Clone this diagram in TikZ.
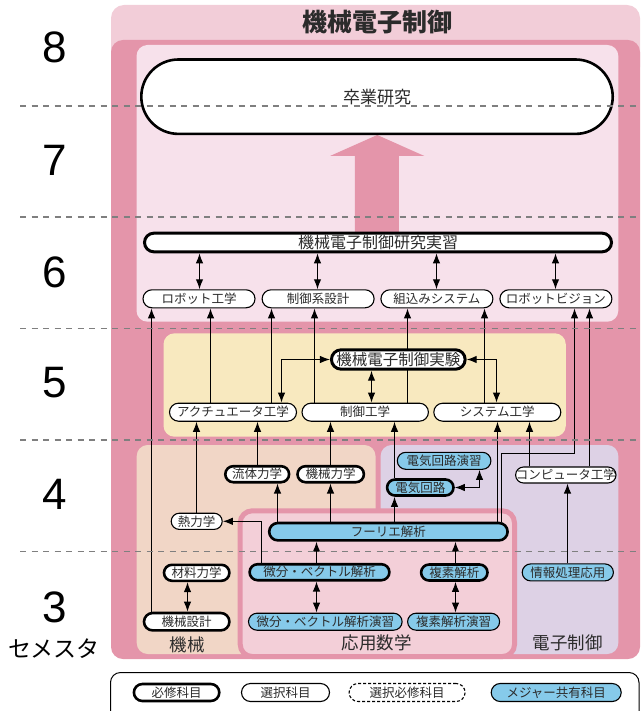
\documentclass[tikz,border=0pt]{standalone}
\usepackage{fontspec}
\newfontfamily\jp{Noto Sans CJK JP}
\newfontfamily\numfont{Liberation Sans}
\usetikzlibrary{arrows.meta}
\definecolor{tpink}{HTML}{F2CDD8}
\definecolor{dpink}{HTML}{E495AA}
\definecolor{ipink}{HTML}{F7E1EB}
\definecolor{ylw}{HTML}{F8E9BF}
\definecolor{peach}{HTML}{F1D6C6}
\definecolor{mpink}{HTML}{F3CFD8}
\definecolor{lav}{HTML}{DDD1E5}
\definecolor{mblue}{HTML}{86CAEA}
\definecolor{sepgray}{HTML}{7F7F7F}
\definecolor{txt}{HTML}{2B2B2B}
\pgfdeclarelayer{regions}
\pgfdeclarelayer{lines}
\pgfdeclarelayer{front}
\pgfsetlayers{regions,lines,main,front}
\tikzset{
  nd/.style={draw=black, fill=white, inner sep=0pt, text=txt,
    font=\jp\fontsize{12.5}{14}\selectfont},
  req/.style={nd, line width=2.6pt, minimum height=16pt, rounded corners=8pt},
  opt/.style={nd, line width=1.1pt, minimum height=17pt, rounded corners=8.5pt},
  blu/.style={fill=mblue},
  arr/.style={line width=1.2pt, -{Latex[length=10pt,width=7.5pt]}},
  darr/.style={line width=1.2pt, {Latex[length=10pt,width=7.5pt]}-{Latex[length=10pt,width=7.5pt]}},
  semnum/.style={font=\numfont\fontsize{44}{44}\selectfont, text=black, inner sep=0pt},
  reglabel/.style={font=\jp\fontsize{17.5}{18}\selectfont, text=txt, inner sep=0pt},
  sepline/.style={draw=sepgray, line width=1.5pt, dash pattern=on 6pt off 5.5pt},
}
\begin{document}
\begin{tikzpicture}[x=1pt,y=-1pt]
\useasboundingbox (0,0) rectangle (640,711);
\clip (0,0) rectangle (640,711);
% regions
\begin{pgfonlayer}{regions}
\fill[tpink, rounded corners=13pt] (111,5) rectangle (640,80);
\fill[dpink, rounded corners=12pt] (111,40) rectangle (640,659);
\fill[ipink, rounded corners=11pt] (136.5,45) rectangle (618.3,321.7);
\fill[ylw, rounded corners=11pt] (163.5,333.3) rectangle (565.8,436.7);
\fill[peach, rounded corners=11pt] (136.7,445) rectangle (375.5,654);
\fill[lav, rounded corners=11pt] (380.6,445) rectangle (618.3,654);
\filldraw[fill=mpink, draw=dpink, line width=5pt, rounded corners=12pt] (240.2,510.8) rectangle (514.5,656.5);
% big arrow
\fill[dpink] (377.2,135) -- (424.4,156) -- (398.9,156) -- (398.9,240) -- (354.8,240) -- (354.8,156) -- (330,156) -- cycle;
\end{pgfonlayer}

% title and labels
\node[font=\jp\bfseries\fontsize{25}{26}\selectfont, text=txt, inner sep=0pt] (title) at (377.2,21.7) {機械電子制御};
\node[semnum] (s8) at (55,47) {8};
\node[semnum] (s7) at (55,160) {7};
\node[semnum] (s6) at (55,272) {6};
\node[semnum] (s5) at (55,383) {5};
\node[semnum] (s4) at (55,494) {4};
\node[semnum] (s3) at (55,607) {3};
\node[font=\jp\fontsize{23}{24}\selectfont, text=black, inner sep=0pt] (sem) at (54,649) {セメスタ};
\node[reglabel] (lkikai) at (187,645) {機械};
\node[reglabel] (louyou) at (376.7,643) {応用数学};
\node[reglabel] (ldenshi) at (567.7,643) {電子制御};

% nodes
\node[nd, line width=2.6pt, minimum width=471.4pt, minimum height=74.4pt, rounded corners=37.2pt,
  font=\jp\fontsize{17}{18}\selectfont] (sotsu) at (377,96.7) {卒業研究};
\node[nd, line width=3pt, minimum width=467pt, minimum height=18.6pt, rounded corners=9.3pt,
  font=\jp\fontsize{16}{17}\selectfont] (kenkyu) at (378,242.5) {機械電子制御研究実習};

\node[opt, minimum width=112pt, minimum height=18pt, rounded corners=9pt] (robot) at (199,298.8) {ロボット工学};
\node[opt, minimum width=112pt, minimum height=18pt, rounded corners=9pt] (seigyokei) at (318.1,298.8) {制御系設計};
\node[opt, minimum width=112pt, minimum height=18pt, rounded corners=9pt] (kumikomi) at (436.9,298.8) {組込みシステム};
\node[opt, minimum width=112pt, minimum height=18pt, rounded corners=9pt] (vision) at (555.9,298.8) {ロボットビジョン};

\node[nd, line width=3pt, minimum width=133.7pt, minimum height=19.4pt, rounded corners=9.7pt,
  font=\jp\fontsize{15.5}{16}\selectfont] (jikken) at (398.3,359.5) {機械電子制御実験};

\node[opt, minimum width=127pt, minimum height=18pt, rounded corners=9pt] (actu) at (233,412.2) {アクチュエータ工学};
\node[opt, minimum width=126.4pt, minimum height=18pt, rounded corners=9pt] (seigyo) at (365.2,412.2) {制御工学};
\node[opt, minimum width=127pt, minimum height=18pt, rounded corners=9pt] (system) at (497.3,412.2) {システム工学};

\node[req, minimum width=63.8pt] (ryutai) at (257.2,474.2) {流体力学};
\node[req, minimum width=66.4pt] (kikairiki) at (330.7,474.2) {機械力学};
\node[opt, blu, minimum width=93.6pt] (denkien) at (444.1,460.8) {電気回路演習};
\node[req, blu, minimum width=66.4pt] (denki) at (420.3,487.5) {電気回路};
\node[opt, minimum width=100.4pt, minimum height=16pt, rounded corners=8pt] (computer) at (565.8,475) {コンピュータ工学};
\node[opt, minimum width=51pt, minimum height=16.2pt, rounded corners=8.1pt] (netsu) at (196.7,521.3) {熱力学};
\node[req, blu, minimum width=238.4pt, minimum height=17.4pt, rounded corners=8.7pt] (fourier) at (388.4,531.7) {フーリエ解析};

\node[req, minimum width=65.4pt] (zairyo) at (196.7,572.8) {材料力学};
\node[req, blu, minimum width=139.8pt] (bibun) at (319.5,572.2) {微分・ベクトル解析};
\node[req, blu, minimum width=66.4pt] (fukuso) at (454.3,572.5) {複素解析};
\node[opt, blu, minimum width=91.2pt] (joho) at (567.8,572.4) {情報処理応用};

\node[req, minimum width=85.4pt, minimum height=17.4pt, rounded corners=8.7pt] (sekkei) at (186.7,621.7) {機械設計};
\node[opt, blu, minimum width=153.6pt] (bibunen) at (325.3,621.7) {微分・ベクトル解析演習};
\node[opt, blu, minimum width=92pt] (fukusoen) at (453.6,621.7) {複素解析演習};

% connectors
\begin{pgfonlayer}{lines}
\draw[darr] (199.5,0 |- kenkyu.south) -- (199.5,0 |- robot.north);
\draw[darr] (317.5,0 |- kenkyu.south) -- (317.5,0 |- seigyokei.north);
\draw[darr] (436.5,0 |- kenkyu.south) -- (436.5,0 |- kumikomi.north);
\draw[darr] (555.5,0 |- kenkyu.south) -- (555.5,0 |- vision.north);

\draw[arr] (151.5,0 |- sekkei.north) -- (151.5,0 |- robot.south);
\draw[arr] (210.5,0 |- actu.north) -- (210.5,0 |- robot.south);
\draw[arr] (271.5,0 |- actu.north) -- (271.5,0 |- seigyokei.south);
\draw[arr] (314.5,0 |- seigyo.north) -- (314.5,0 |- seigyokei.south);
\draw[arr] (407.5,0 |- seigyo.north) -- (407.5,0 |- kumikomi.south);
\draw[arr] (484.5,0 |- system.north) -- (484.5,0 |- kumikomi.south);
\draw[arr] (501.5,0 |- fourier.north) -- (501.5,453.5) -| (574.5,0 |- vision.south);
\draw[arr] (589.5,0 |- computer.north) -- (589.5,0 |- vision.south);
\draw[arr] (497.5,0 |- fourier.north) -- (497.5,0 |- system.south);
\draw[arr] (529.5,0 |- computer.north) -- (529.5,0 |- system.south);

\draw[darr] (jikken.west) -| (281.5,0 |- actu.north);
\draw[darr] (jikken.east) -| (496.5,0 |- system.north);
\draw[darr] (371.5,0 |- jikken.south) -- (371.5,0 |- seigyo.north);

\draw[arr] (196.5,0 |- netsu.north) -- (196.5,0 |- actu.south);
\draw[arr] (257.5,0 |- ryutai.north) -- (257.5,0 |- actu.south);
\draw[arr] (330.5,0 |- kikairiki.north) -- (330.5,0 |- seigyo.south);
\draw[arr] (394.5,0 |- denki.north) -- (394.5,0 |- seigyo.south);

\draw[arr] (277.5,0 |- fourier.north) -- (277.5,0 |- ryutai.south);
\draw[arr] (330.5,0 |- fourier.north) -- (330.5,0 |- kikairiki.south);
\draw[arr] (394.5,0 |- fourier.north) -- (394.5,0 |- denki.south);
\draw[darr] (denki.east) -| (479.5,0 |- denkien.south);
\draw[arr] (567.5,0 |- joho.north) -- (567.5,0 |- computer.south);
\draw[arr] (261.5,0 |- bibun.north) |- (netsu.east);
\draw[arr] (316.5,0 |- bibun.north) -- (316.5,0 |- fourier.south);
\draw[arr] (455.5,0 |- fukuso.north) -- (455.5,0 |- fourier.south);
\draw[darr] (187.5,0 |- zairyo.south) -- (187.5,0 |- sekkei.north);
\draw[darr] (316.5,0 |- bibun.south) -- (316.5,0 |- bibunen.north);
\draw[darr] (455.5,0 |- fukuso.south) -- (455.5,0 |- fukusoen.north);
\end{pgfonlayer}

% legend
\draw[line width=1pt, rounded corners=10pt] (110.5,672.5) rectangle (639,730);
\node[req, minimum width=85.4pt, minimum height=17pt, rounded corners=8.5pt] (lg1) at (176.6,692.5) {必修科目};
\node[opt, minimum width=88pt, minimum height=18pt, rounded corners=9pt] (lg2) at (285.5,692.5) {選択科目};
\node[opt, dash pattern=on 3pt off 2pt, minimum width=116pt, minimum height=18pt, rounded corners=9pt] (lg3) at (407.1,692.5) {選択必修科目};
\node[opt, blu, minimum width=130pt, minimum height=18pt, rounded corners=9pt] (lg4) at (556.2,692.5) {メジャー共有科目};

% semester separators
\begin{pgfonlayer}{front}
\foreach \yy in {106,217,328.3,440,551.7} \draw[sepline] (20,\yy) -- (640,\yy);
\end{pgfonlayer}
\end{tikzpicture}
\end{document}
